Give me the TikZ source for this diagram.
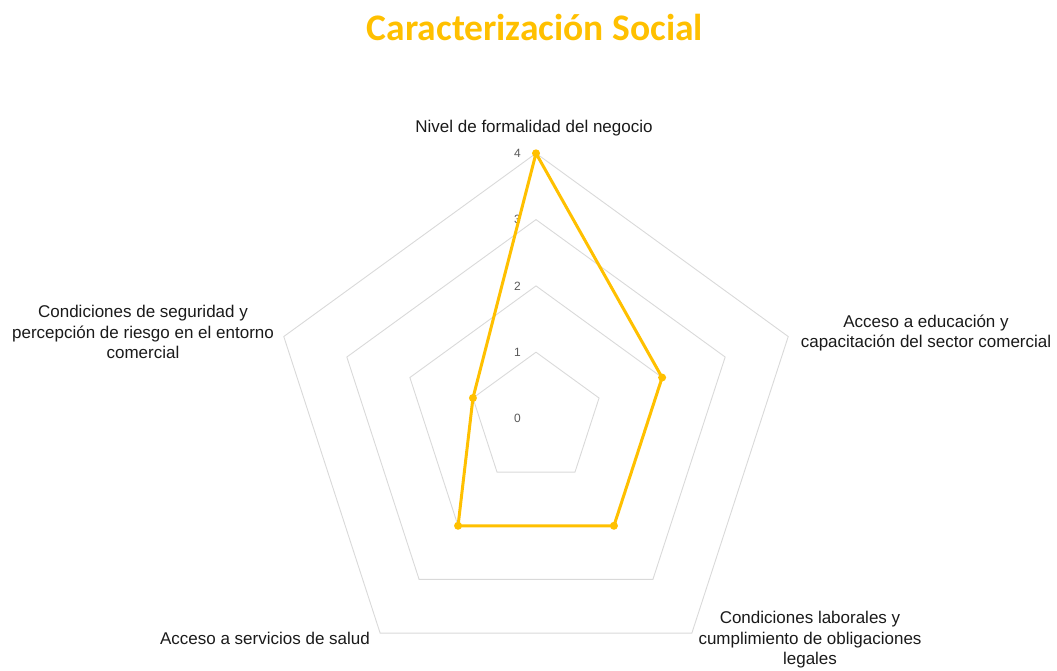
\documentclass[tikz,border=0pt]{standalone}
\usepackage{fontspec}
\setmainfont{Liberation Sans}
\newfontfamily\titlefont{Carlito}
\usetikzlibrary{calc}
\definecolor{gold}{HTML}{FFC000}
\definecolor{gridc}{HTML}{D9D9D9}
\definecolor{labc}{HTML}{1A1A1A}
\definecolor{valc}{HTML}{595959}
\begin{document}
\begin{tikzpicture}[x=1pt,y=1pt,
  catlabel/.style={font=\fontsize{17}{20.5}\selectfont, text=labc, align=center, inner sep=0pt},
  vallabel/.style={font=\fontsize{12}{14}\selectfont, text=valc, anchor=east, inner sep=0pt},
  ring/.style={draw=gridc, line width=0.9pt, line join=miter},
  series/.style={draw=gold, line width=3pt, line join=round},
  dot/.style={circle, fill=gold, inner sep=0pt, minimum size=8pt},
  titlestyle/.style={font=\titlefont\bfseries\fontsize{37.5}{40}\selectfont, text=gold, inner sep=0pt}]
\useasboundingbox (0,0) rectangle (1057,670);
\coordinate (C) at (536,251.5);
\def\unit{66.3}
% grid rings
\foreach \v in {1,...,4}{
  \pgfmathsetmacro\r{\v*\unit}
  \draw[ring] ($(C)+(90:\r)$) -- ($(C)+(18:\r)$) -- ($(C)+(-54:\r)$) -- ($(C)+(-126:\r)$) -- ($(C)+(162:\r)$) -- cycle;
}
% value labels
\foreach \v in {0,...,4}{
  \pgfmathsetmacro\r{\v*\unit}
  \node[vallabel] (val\v) at ($(C)+(-15,\r)$) {\v};
}
% title
\node[titlestyle] (title) at (535,643) {Caracterización Social};
% category labels
\node[catlabel] (catA) at (534,542) {Nivel de formalidad del negocio};
\node[catlabel] (catB) at (926,337) {Acceso a educación y\\capacitación del sector comercial};
\node[catlabel] (catC) at (810,30) {Condiciones laborales y\\cumplimiento de obligaciones\\legales};
\node[catlabel] (catD) at (265,32) {Acceso a servicios de salud};
\node[catlabel] (catE) at (143,338) {Condiciones de seguridad y\\percepción de riesgo en el entorno\\comercial};
% data points
\pgfmathsetmacro\ra{4*\unit}
\pgfmathsetmacro\rb{2*\unit}
\pgfmathsetmacro\re{1*\unit}
\node[dot] (p1) at ($(C)+(90:\ra)$) {};
\node[dot] (p2) at ($(C)+(18:\rb)$) {};
\node[dot] (p3) at ($(C)+(-54:\rb)$) {};
\node[dot] (p4) at ($(C)+(-126:\rb)$) {};
\node[dot] (p5) at ($(C)+(162:\re)$) {};
\draw[series] (p1.center) -- (p2.center) -- (p3.center) -- (p4.center) -- (p5.center) -- cycle;
\end{tikzpicture}
\end{document}
